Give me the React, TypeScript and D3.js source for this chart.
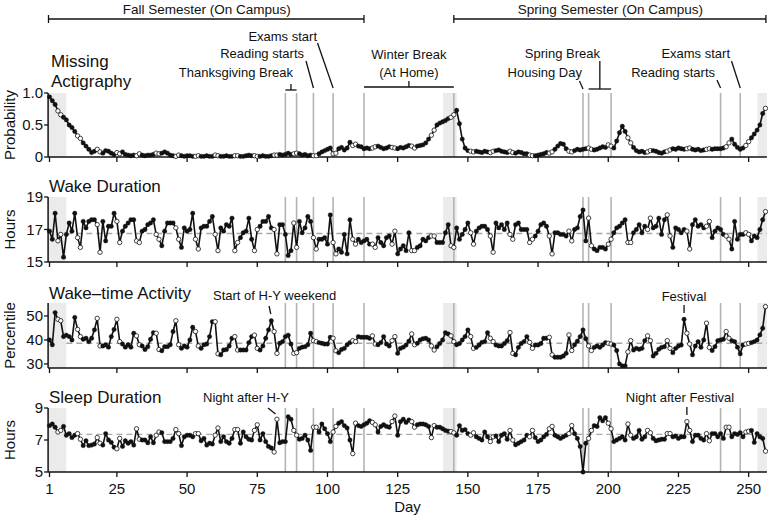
import * as d3 from 'd3'

const W = 768
const H = 527
const FONT = "'Liberation Sans', Arial, Helvetica, sans-serif"
const EVENT_COLOR = '#b4b4b4'
const BAND_COLOR = '#ebebeb'
const MEAN_COLOR = '#a8a8a8'

// one value per study day, day 1..256
const missingProb = [
  0.94, 0.88, 0.82, 0.72, 0.66, 0.62, 0.58, 0.50, 0.46, 0.40,
  0.33, 0.29, 0.22, 0.17, 0.12, 0.07, 0.09, 0.12, 0.08, 0.06,
  0.10, 0.09, 0.06, 0.04, 0.07, 0.05, 0.08, 0.04, 0.03, 0.02,
  0.03, 0.02, 0.05, 0.03, 0.02, 0.03, 0.03, 0.04, 0.06, 0.05,
  0.06, 0.08, 0.06, 0.03, 0.02, 0.01, 0.03, 0.02, 0.01, 0.02,
  0.02, 0.01, 0.01, 0.02, 0.01, 0.01, 0.02, 0.01, 0.01, 0.03,
  0.02, 0.01, 0.01, 0.02, 0.01, 0.01, 0.02, 0.02, 0.01, 0.01,
  0.02, 0.03, 0.02, 0.02, 0.01, 0.01, 0.02, 0.01, 0.01, 0.02,
  0.03, 0.03, 0.04, 0.03, 0.04, 0.06, 0.04, 0.05, 0.06, 0.05,
  0.03, 0.04, 0.02, 0.03, 0.02, 0.02, 0.05, 0.08, 0.10, 0.12,
  0.14, 0.05, 0.06, 0.13, 0.15, 0.11, 0.14, 0.23, 0.18, 0.20,
  0.17, 0.16, 0.13, 0.14, 0.13, 0.14, 0.16, 0.17, 0.15, 0.13,
  0.14, 0.16, 0.15, 0.14, 0.13, 0.15, 0.14, 0.16, 0.18, 0.17,
  0.14, 0.17, 0.18, 0.19, 0.22, 0.28, 0.34, 0.42, 0.50, 0.53,
  0.55, 0.57, 0.60, 0.62, 0.66, 0.73, 0.52, 0.28, 0.14, 0.10,
  0.09, 0.08, 0.09, 0.08, 0.07, 0.09, 0.08, 0.07, 0.09, 0.10,
  0.11, 0.09, 0.08, 0.07, 0.09, 0.07, 0.06, 0.08, 0.07, 0.05,
  0.05, 0.03, 0.02, 0.02, 0.03, 0.04, 0.05, 0.07, 0.06, 0.08,
  0.12, 0.17, 0.21, 0.20, 0.13, 0.09, 0.08, 0.10, 0.12, 0.11,
  0.12, 0.13, 0.14, 0.12, 0.11, 0.12, 0.14, 0.16, 0.15, 0.19,
  0.17, 0.14, 0.25, 0.38, 0.48, 0.40, 0.30, 0.22, 0.15, 0.10,
  0.08, 0.09, 0.07, 0.08, 0.10, 0.10, 0.09, 0.07, 0.06, 0.08,
  0.09, 0.11, 0.13, 0.12, 0.14, 0.13, 0.12, 0.13, 0.14, 0.12,
  0.11, 0.12, 0.10, 0.11, 0.12, 0.13, 0.12, 0.13, 0.13, 0.13,
  0.14, 0.16, 0.22, 0.28, 0.20, 0.15, 0.12, 0.14, 0.18, 0.24,
  0.30, 0.36, 0.42, 0.50, 0.68, 0.76,
]

const wakeHours = [
  16.9, 16.4, 18.0, 16.3, 16.7, 15.3, 16.7, 17.4, 16.9, 18.0,
  16.5, 15.9, 17.5, 17.1, 17.5, 17.6, 17.6, 17.3, 15.6, 17.5,
  16.3, 17.2, 17.2, 18.0, 17.5, 16.2, 16.9, 17.2, 17.4, 17.6,
  17.6, 16.3, 16.2, 16.9, 17.0, 17.3, 17.4, 17.6, 16.7, 16.4,
  16.0, 16.9, 17.4, 17.4, 17.4, 17.1, 16.4, 15.9, 17.1, 16.9,
  17.0, 18.0, 16.4, 15.8, 17.1, 17.2, 17.2, 17.5, 17.8, 16.7,
  15.7, 17.1, 16.9, 17.3, 17.2, 17.7, 15.7, 16.2, 16.5, 16.8,
  16.9, 17.7, 16.4, 15.7, 17.0, 17.2, 17.5, 17.5, 17.8, 17.1,
  17.0, 15.5, 17.3, 17.3, 16.7, 15.4, 15.7, 17.4, 15.9, 17.5,
  16.8, 17.1, 17.8, 17.5, 16.5, 15.8, 16.4, 16.4, 16.5, 16.1,
  17.9, 16.2, 15.5, 15.8, 15.6, 16.7, 15.5, 17.6, 16.4, 16.1,
  16.4, 16.2, 16.3, 16.4, 16.1, 16.1, 15.9, 16.5, 16.2, 16.0,
  16.5, 16.6, 16.1, 16.9, 15.5, 15.8, 16.0, 15.7, 16.8, 15.7,
  15.7, 15.9, 16.0, 16.4, 16.3, 16.5, 16.6, 16.6, 16.2, 16.2,
  16.2, 16.8, 17.3, 16.0, 15.9, 17.1, 16.4, 16.7, 17.0, 17.4,
  16.8, 16.1, 16.9, 17.1, 17.2, 17.2, 17.0, 16.6, 15.6, 17.4,
  17.1, 17.3, 17.0, 17.4, 16.7, 16.4, 17.3, 17.4, 17.0, 17.0,
  17.0, 16.2, 16.4, 16.6, 16.9, 17.3, 17.4, 17.2, 16.6, 15.5,
  16.8, 16.8, 16.7, 16.7, 16.6, 16.9, 16.3, 17.0, 17.1, 17.8,
  18.2, 16.3, 17.7, 16.0, 15.8, 15.7, 15.9, 15.9, 15.8, 16.1,
  16.4, 16.8, 17.1, 17.2, 17.4, 17.6, 16.2, 16.2, 16.8, 17.0,
  17.3, 16.8, 17.2, 17.0, 17.7, 17.1, 17.2, 17.7, 16.7, 17.6,
  17.9, 16.6, 15.9, 17.1, 17.0, 16.8, 17.0, 16.9, 15.8, 17.3,
  17.6, 17.2, 17.3, 17.1, 17.2, 17.5, 16.5, 16.9, 17.1, 17.0,
  16.7, 16.6, 16.4, 15.8, 17.5, 16.4, 16.7, 16.7, 16.8, 16.7,
  16.3, 16.6, 16.5, 17.0, 17.6, 18.1,
]

const wakeActivity = [
  40.0, 38.0, 51.4, 48.6, 48.0, 41.4, 42.0, 41.4, 40.0, 49.4,
  44.4, 41.4, 40.3, 40.7, 39.3, 40.7, 44.2, 49.0, 37.5, 37.5,
  38.0, 37.0, 41.4, 44.4, 48.6, 39.3, 38.3, 37.0, 38.0, 37.0,
  42.8, 41.7, 38.0, 37.5, 36.0, 37.2, 40.3, 43.0, 42.8, 36.0,
  35.5, 37.2, 37.2, 38.0, 43.5, 48.0, 38.0, 36.5, 37.5, 37.0,
  40.0, 45.3, 43.5, 37.5, 36.5, 38.0, 38.3, 41.4, 47.6, 47.6,
  34.2, 33.8, 35.8, 36.0, 37.5, 40.7, 41.4, 35.8, 35.8, 35.8,
  35.8, 38.9, 41.4, 42.0, 36.5, 35.8, 37.5, 40.7, 44.2, 48.0,
  43.5, 34.4, 38.6, 39.3, 41.4, 42.0, 38.3, 34.4, 34.7, 36.5,
  37.0, 37.2, 38.0, 42.8, 39.7, 39.3, 38.9, 38.6, 38.3, 38.3,
  41.1, 40.7, 35.5, 34.7, 36.0, 36.5, 38.0, 38.9, 39.7, 39.3,
  41.4, 41.1, 41.1, 41.1, 40.7, 41.7, 38.3, 38.0, 38.9, 41.4,
  38.3, 37.5, 39.7, 41.4, 34.4, 36.5, 37.0, 37.9, 39.5, 42.5,
  38.0, 38.6, 40.0, 40.5, 40.7, 40.0, 37.5, 35.8, 37.2, 38.5,
  40.0, 43.0, 42.5, 41.7, 39.3, 38.0, 38.5, 40.0, 41.4, 44.2,
  41.4, 36.5, 36.9, 37.9, 39.0, 39.3, 43.0, 40.7, 39.3, 37.9,
  37.5, 37.5, 38.5, 39.7, 43.1, 34.4, 33.8, 36.9, 38.5, 39.3,
  41.4, 39.0, 36.5, 37.9, 37.9, 38.5, 40.7, 40.7, 41.1, 33.8,
  32.8, 32.8, 32.8, 33.3, 34.4, 42.1, 35.6, 38.0, 39.5, 41.4,
  44.2, 40.5, 37.5, 35.6, 36.9, 37.5, 36.9, 37.9, 38.9, 38.6,
  38.3, 37.9, 35.6, 30.0, 29.2, 29.2, 35.0, 39.7, 35.8, 36.5,
  36.1, 36.5, 39.7, 41.7, 39.7, 33.3, 34.4, 36.1, 36.9, 37.2,
  39.7, 36.5, 34.7, 36.5, 37.5, 37.9, 48.6, 42.8, 38.3, 33.8,
  37.5, 39.3, 36.9, 40.0, 47.0, 36.9, 35.6, 37.2, 39.7, 40.0,
  40.3, 43.5, 40.7, 39.7, 39.3, 37.0, 34.2, 37.9, 38.3, 38.6,
  38.9, 39.3, 40.0, 42.1, 44.9, 53.9,
]

const sleepHours = [
  7.9, 8.0, 7.8, 7.5, 7.6, 7.85, 7.3, 7.4, 7.15, 7.3,
  7.4, 7.05, 6.65, 6.95, 6.65, 6.68, 6.75, 7.15, 6.8, 6.68,
  7.4, 7.0, 6.85, 6.55, 6.45, 7.1, 6.6, 6.95, 6.8, 6.9,
  6.68, 7.7, 7.05, 7.0, 7.0, 6.83, 7.2, 6.83, 7.3, 7.5,
  7.45, 6.9, 6.9, 6.9, 7.1, 7.65, 7.4, 6.65, 7.2, 7.3,
  7.3, 7.2, 7.4, 7.4, 6.95, 7.1, 6.68, 6.8, 6.75, 7.3,
  7.75, 6.9, 7.2, 6.9, 6.8, 7.1, 7.65, 7.65, 6.8, 7.5,
  7.2, 7.05, 7.0, 7.6, 7.95, 7.0, 7.4, 6.9, 6.6, 6.5,
  6.25, 8.3, 6.83, 6.9, 6.9, 8.45, 8.3, 7.6, 7.3, 7.05,
  7.1, 7.3, 7.0, 6.35, 7.8, 7.8, 7.5, 8.0, 7.7, 7.4,
  6.9, 7.5, 7.85, 8.05, 8.15, 7.9, 7.75, 7.0, 6.15, 8.05,
  7.9, 7.85, 7.95, 8.05, 8.2, 8.1, 7.95, 7.5, 7.85, 7.95,
  7.85, 7.8, 8.15, 8.5, 7.3, 8.15, 8.3, 8.1, 8.25, 8.15,
  7.8, 7.95, 8.0, 8.0, 7.95, 7.85, 7.15, 7.9, 7.8, 7.8,
  7.7, 7.6, 7.55, 7.53, 7.45, 7.3, 7.9, 7.6, 7.65, 7.4,
  7.3, 7.45, 7.2, 7.1, 7.0, 7.5, 7.2, 6.9, 7.2, 7.25,
  6.9, 7.3, 7.4, 7.05, 7.6, 7.0, 6.7, 6.8, 6.9, 7.0,
  7.3, 7.2, 7.6, 7.15, 6.9, 7.0, 7.2, 7.35, 7.7, 7.85,
  7.3, 7.2, 7.1, 7.2, 7.3, 7.4, 7.9, 7.4, 7.1, 6.6,
  5.0, 6.8, 7.1, 7.6, 7.9, 7.85, 8.4, 8.2, 8.4, 8.05,
  7.7, 6.9, 7.0, 7.1, 7.2, 7.0, 8.0, 7.3, 7.1, 7.2,
  7.6, 7.05, 7.2, 7.6, 7.45, 7.1, 6.95, 7.0, 7.05, 7.05,
  7.4, 7.4, 7.2, 7.25, 7.1, 7.2, 7.2, 8.15, 7.6, 6.9,
  7.3, 7.3, 7.1, 7.0, 7.4, 6.95, 7.4, 7.4, 7.2, 7.4,
  7.1, 7.8, 7.8, 7.2, 7.4, 7.35, 7.45, 7.2, 7.5, 7.55,
  7.6, 6.85, 7.4, 7.2, 7.1, 6.3,
]

const DAY_TICKS = [1, 25, 50, 75, 100, 125, 150, 175, 200, 225, 250]
const EVENT_DAYS = [85, 89, 95, 102, 113, 145, 191, 193, 201, 240, 247]
const SHADED_DAYS: [number, number][] = [[1, 7], [141.5, 146], [253.5, 256.5]]

interface Panel {
  values: number[]
  domain: [number, number]
  top: number
  bottom: number
  ticks: number[]
  tickLabels: string[]
  ylabel: string
  mean: number | null
}

const PANELS: Panel[] = [
  { values: missingProb, domain: [0, 1], top: 93, bottom: 157, ticks: [0, 0.5, 1], tickLabels: ['0', '0.5', '1.0'], ylabel: 'Probability', mean: null },
  { values: wakeHours, domain: [15, 19], top: 197, bottom: 262, ticks: [15, 17, 19], tickLabels: ['15', '17', '19'], ylabel: 'Hours', mean: 16.75 },
  { values: wakeActivity, domain: [28.3, 55.4], top: 303, bottom: 368, ticks: [30, 40, 50], tickLabels: ['30', '40', '50'], ylabel: 'Percentile', mean: 38.6 },
  { values: sleepHours, domain: [5, 9], top: 408, bottom: 472, ticks: [5, 7, 9], tickLabels: ['5', '7', '9'], ylabel: 'Hours', mean: 7.35 },
]

const isWeekend = (day: number) => day % 7 === 4 || day % 7 === 5

export default function App() {
  const x = d3.scaleLinear().domain([1, 256]).range([49.5, 765.5])
  const xLeft = x(0.5)
  const xRight = x(256.5)

  const text = (s: string, px: number, py: number, size = 13, anchor = 'start') => (
    <text key={s + px + py} x={px} y={py} fontSize={size} textAnchor={anchor} fill="#111">{s}</text>
  )
  const seg = (x1: number, y1: number, x2: number, y2: number, key: string) => (
    <line key={key} x1={x1} y1={y1} x2={x2} y2={y2} stroke="#111" strokeWidth={1.3} />
  )

  return (
    <svg width={W} height={H} style={{ position: 'absolute', left: 0, top: 0, background: '#fff' }} fontFamily={FONT}>
      {PANELS.map((p, pi) => {
        const y = d3.scaleLinear().domain(p.domain).range([p.bottom, p.top])
        const line = d3.line<number>().x((_, i) => x(i + 1)).y((v) => y(v))
        const cy = (p.top + p.bottom) / 2
        return (
          <g key={pi}>
            {SHADED_DAYS.map(([a, b], i) => (
              <rect key={'b' + i} x={x(a) - 1} y={p.top} width={Math.min(x(b), xRight) - x(a) + 1} height={p.bottom - p.top} fill={BAND_COLOR} />
            ))}
            {EVENT_DAYS.map((d) => (
              <line key={'e' + d} x1={x(d)} x2={x(d)} y1={p.top} y2={p.bottom} stroke={EVENT_COLOR} strokeWidth={1.6} />
            ))}
            {p.mean !== null && (
              <line x1={x(7)} x2={xRight} y1={y(p.mean)} y2={y(p.mean)} stroke={MEAN_COLOR} strokeWidth={1.4} strokeDasharray="6,4" />
            )}
            {/* axes */}
            <line x1={xLeft} x2={xLeft} y1={p.top} y2={p.bottom} stroke="#111" strokeWidth={1.5} />
            <line x1={xLeft} x2={xRight} y1={p.bottom} y2={p.bottom} stroke="#111" strokeWidth={1.5} />
            {p.ticks.map((t, i) => (
              <g key={'yt' + t}>
                <line x1={xLeft - 4} x2={xLeft} y1={y(t)} y2={y(t)} stroke="#111" strokeWidth={1.3} />
                <text x={43} y={y(t)} dy="0.36em" fontSize={15} textAnchor="end" fill="#111">{p.tickLabels[i]}</text>
              </g>
            ))}
            {DAY_TICKS.map((d) => (
              <line key={'xt' + d} x1={x(d)} x2={x(d)} y1={p.bottom} y2={p.bottom + 5} stroke="#111" strokeWidth={1.3} />
            ))}
            <text transform={`translate(15,${cy}) rotate(-90)`} fontSize={15} textAnchor="middle" fill="#111">{p.ylabel}</text>
            <path d={line(p.values) ?? ''} fill="none" stroke="#111" strokeWidth={1.6} strokeLinejoin="round" />
            {p.values.map((v, i) => {
              const open = isWeekend(i + 1)
              return (
                <circle key={i} cx={x(i + 1)} cy={y(v)} r={2.2}
                  fill={open ? '#fff' : '#111'} stroke="#111" strokeWidth={open ? 0.8 : 0.4} />
              )
            })}
          </g>
        )
      })}

      {/* bottom axis labels */}
      {DAY_TICKS.map((d) => (
        <text key={'xl' + d} x={x(d)} y={493.5} fontSize={15} textAnchor="middle" fill="#111">{d}</text>
      ))}
      {text('Day', (xLeft + xRight) / 2, 512, 15, 'middle')}

      {/* panel titles */}
      {text('Missing', 51, 67, 17)}
      {text('Actigraphy', 51, 87, 17)}
      {text('Wake Duration', 49, 192, 17)}
      {text('Wake\u2013time Activity', 49, 298.5, 17)}
      {text('Sleep Duration', 49, 403, 17)}

      {/* semesters */}
      {seg(x(1) - 1, 19, x(113), 19, 's1')}
      {seg(x(1) - 1, 15, x(1) - 1, 23, 's1a')}
      {seg(x(113), 15, x(113), 23, 's1b')}
      {text('Fall Semester (On Campus)', (x(1) + x(113)) / 2, 13.5, 13.5, 'middle')}
      {seg(x(145), 19, xRight - 1, 19, 's2')}
      {seg(x(145), 15, x(145), 23, 's2a')}
      {seg(xRight - 1, 15, xRight - 1, 23, 's2b')}
      {text('Spring Semester (On Campus)', (x(145) + xRight) / 2, 13.5, 13.5, 'middle')}

      {/* fall events */}
      {text('Exams start', 317, 40.5, 13, 'end')}
      {seg(317.5, 43, x(102), 88, 'a1')}
      {text('Reading starts', 304, 58, 13, 'end')}
      {seg(306, 61, x(95), 88, 'a2')}
      {text('Thanksgiving Break', 293, 77, 13, 'end')}
      {seg(x(85), 90, x(89), 90, 'a3')}
      {seg(x(87), 84, x(87), 90, 'a4')}
      {text('Winter Break', (x(113) + x(145)) / 2, 59, 13, 'middle')}
      {text('(At Home)', (x(113) + x(145)) / 2, 76.5, 13, 'middle')}
      {seg(x(113), 87, x(145), 87, 'a5')}
      {seg((x(113) + x(145)) / 2, 81, (x(113) + x(145)) / 2, 87, 'a6')}

      {/* spring events */}
      {text('Spring Break', 600, 58, 13, 'end')}
      {seg(x(193), 89, x(201), 89, 'b1')}
      {seg(x(197), 61, x(197), 89, 'b2')}
      {text('Housing Day', 582, 77, 13, 'end')}
      {seg(579.5, 81, x(191), 89, 'b3')}
      {text('Exams start', 730, 58, 13, 'end')}
      {seg(731.5, 61, x(247), 88, 'b4')}
      {text('Reading starts', 715, 77, 13, 'end')}
      {seg(717, 80, x(240), 88, 'b5')}

      {/* activity + sleep notes */}
      {text('Start of H-Y weekend', 213, 299.5)}
      {seg(x(79.2), 306, x(79.8), 314, 'c1')}
      {text('Festival', x(227), 301, 13, 'middle')}
      {seg(x(227), 305, x(227), 313, 'c2')}
      {text('Night after H-Y', 203, 402)}
      {seg(268, 408, x(81.5), 414, 'c3')}
      {text('Night after Festival', 680, 402, 13, 'middle')}
      {seg(x(228), 407, x(228), 415, 'c4')}
    </svg>
  )
}
